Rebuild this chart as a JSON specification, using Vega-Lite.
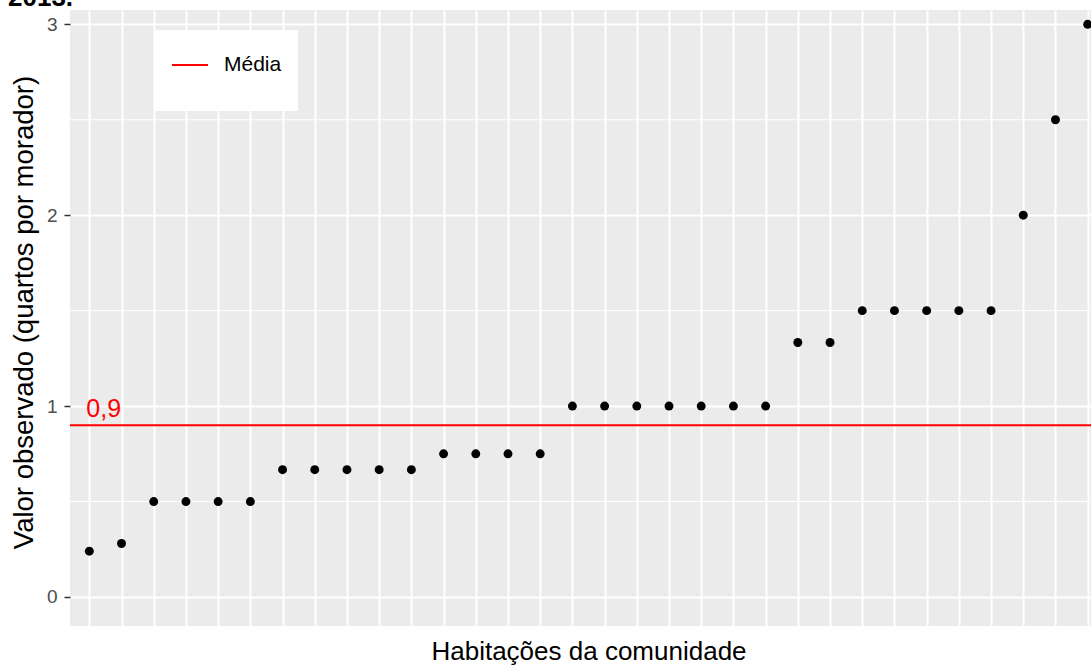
{
  "$schema": "https://vega.github.io/schema/vega-lite/v6.json",
  "width": 1037,
  "height": 616,
  "autosize": {"type": "none"},
  "padding": {"left": 70, "top": 10, "right": 0, "bottom": 39},
  "title": {"text": "2013.", "anchor": "start", "frame": "group", "fontSize": 26, "font": "Liberation Sans", "fontWeight": "bold", "color": "#000000", "baseline": "alphabetic", "offset": 0, "dx": -62, "dy": 22},
  "config": {
    "view": {"fill": "#EBEBEB", "stroke": null},
    "font": "Liberation Sans",
    "legend": {"orient": "none", "legendX": 85, "legendY": 20, "fillColor": "#FFFFFF", "padding": 16, "symbolType": "M-1,-1.43M-1,1.43M-1,0L1,0", "symbolStrokeWidth": 2, "symbolSize": 1296, "labelFontSize": 21, "labelColor": "#000000", "labelOffset": 15, "title": null}
  },
  "datasets": {
    "obs": [
      {"id": 1, "valor": 0.24}, {"id": 2, "valor": 0.28}, {"id": 3, "valor": 0.5}, {"id": 4, "valor": 0.5},
      {"id": 5, "valor": 0.5}, {"id": 6, "valor": 0.5}, {"id": 7, "valor": 0.667}, {"id": 8, "valor": 0.667},
      {"id": 9, "valor": 0.667}, {"id": 10, "valor": 0.667}, {"id": 11, "valor": 0.667}, {"id": 12, "valor": 0.75},
      {"id": 13, "valor": 0.75}, {"id": 14, "valor": 0.75}, {"id": 15, "valor": 0.75}, {"id": 16, "valor": 1},
      {"id": 17, "valor": 1}, {"id": 18, "valor": 1}, {"id": 19, "valor": 1}, {"id": 20, "valor": 1},
      {"id": 21, "valor": 1}, {"id": 22, "valor": 1}, {"id": 23, "valor": 1.333}, {"id": 24, "valor": 1.333},
      {"id": 25, "valor": 1.5}, {"id": 26, "valor": 1.5}, {"id": 27, "valor": 1.5}, {"id": 28, "valor": 1.5},
      {"id": 29, "valor": 1.5}, {"id": 30, "valor": 2}, {"id": 31, "valor": 2.5}, {"id": 32, "valor": 3}
    ],
    "minor": [{"g": 0.5}, {"g": 1.5}, {"g": 2.5}],
    "media": [{"id": 1, "valor": 0.9, "rotulo": "0,9", "serie": "Média"}]
  },
  "layer": [
    {
      "data": {"name": "minor"},
      "mark": {"type": "rule", "color": "#FFFFFF", "strokeWidth": 1},
      "encoding": {"y": {"field": "g", "type": "quantitative"}}
    },
    {
      "data": {"name": "obs"},
      "mark": {"type": "circle", "size": 80, "color": "#000000", "opacity": 1},
      "encoding": {
        "x": {"field": "id", "type": "ordinal", "scale": {"type": "point", "padding": 0.6},
          "axis": {"title": "Habitações da comunidade", "titleFontSize": 26, "titleFontWeight": "normal", "titleColor": "#000000", "titlePadding": 12, "labels": false, "ticks": false, "domain": false, "grid": true, "gridColor": "#FFFFFF", "gridWidth": 2}},
        "y": {"field": "valor", "type": "quantitative", "scale": {"domain": [-0.152, 3.075], "nice": false, "zero": false},
          "axis": {"title": "Valor observado (quartos por morador)", "titleFontSize": 27.5, "titleFontWeight": "normal", "titleColor": "#000000", "titlePadding": 8, "titleY": 302, "values": [0, 1, 2, 3], "format": "d", "labelFontSize": 19, "labelColor": "#4D4D4D", "labelPadding": 7, "tickColor": "#333333", "tickSize": 6, "tickWidth": 1.5, "domain": false, "grid": true, "gridColor": "#FFFFFF", "gridWidth": 2}}
      }
    },
    {
      "data": {"name": "media"},
      "mark": {"type": "rule", "strokeWidth": 2},
      "encoding": {
        "y": {"field": "valor", "type": "quantitative"},
        "color": {"field": "serie", "type": "nominal", "scale": {"range": ["#FF0000"]}}
      }
    },
    {
      "data": {"name": "media"},
      "mark": {"type": "text", "color": "#FF0000", "fontSize": 25, "align": "left", "baseline": "alphabetic", "dx": -3, "dy": -8},
      "encoding": {
        "x": {"field": "id", "type": "ordinal"},
        "y": {"field": "valor", "type": "quantitative"},
        "text": {"field": "rotulo"}
      }
    }
  ]
}
